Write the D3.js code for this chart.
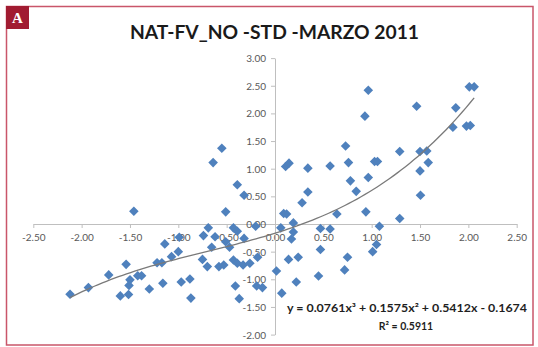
<!DOCTYPE html>
<html>
<head>
<meta charset="utf-8">
<script src="https://cdn.jsdelivr.net/npm/d3@7"></script>
<style>
  body { margin: 0; background: #fff; }
  .tick text { font-family: Lato, "Open Sans", sans-serif; font-size: 10px; fill: #595959; }
  .domain, .tick line { stroke: #bfbfbf; }
</style>
</head>
<body>
<div id="chart"></div>
<script>
var width = 538, height = 347;

// DATA
var xValues = [-1.46, -2.12, -1.93, -1.72, -1.54, -1.50, -1.42, -1.38, -1.51, -1.60,
  -1.515, -1.30, -1.22, -1.17, -1.14, -0.99, -1.00, -1.07, -1.16, -0.97,
  -0.88, -0.87, -0.74, -0.69, -0.62, -0.655, -0.75, -0.70, -0.58, -0.53,
  -0.51, -0.47, -0.43, -0.39, -0.32, -0.43, -0.39, -0.33, -0.26, -0.18,
  -0.41, -0.37, -0.19, -0.13, -0.20, -0.55, -0.64, -0.39, -0.32, -0.51,
  0.015, 0.07, 0.06, 0.09, 0.12, 0.19, 0.19, 0.17, 0.14, 0.24,
  0.47, 0.75, 0.45, 0.72, 0.22, 1.05, 1.01, 0.47, 0.57, 1.08,
  1.29, 0.64, 0.94, 0.28, 0.34, 0.84, 0.78, 0.965, 1.505, 1.50,
  0.11, 0.145, 0.34, 0.57, 0.76, 1.03, 1.06, 1.585, 0.73, 1.29,
  1.50, 1.57, 0.93, 0.965, 1.465, 1.87, 2.01, 2.06, 1.84, 1.98, 2.02];
var yValues = [0.23, -1.27, -1.15, -0.92, -0.73, -1.01, -0.935, -0.935, -1.11, -1.30,
  -1.275, -1.175, -0.70, -0.70, -0.36, -0.24, -0.50, -0.59, -1.07, -1.05,
  -0.995, -1.34, -0.21, -0.07, -0.23, -0.42, -0.64, -0.77, -0.77, -0.74,
  -0.32, -0.42, -0.07, -0.13, -0.26, -0.65, -0.71, -0.74, -0.71, -0.60,
  -1.12, -1.35, -1.12, -1.15, -0.04, 1.37, 1.11, 0.71, 0.52, 0.22,
  -0.85, -1.25, -0.07, 0.19, 0.18, 0.02, -0.145, -0.27, -0.64, -0.60,
  -0.46, -0.60, -0.94, -0.83, -1.05, -0.37, -0.50, -0.08, -0.09, -0.04,
  0.10, 0.18, 0.22, 0.385, 0.58, 0.59, 0.78, 0.84, 0.52, 0.96,
  1.04, 1.10, 1.01, 1.05, 1.11, 1.13, 1.13, 1.11, 1.41, 1.31,
  1.31, 1.32, 1.95, 2.42, 2.13, 2.10, 2.48, 2.48, 1.75, 1.77, 1.78];
var xTickValues = [-2.5, -2, -1.5, -1, -0.5, 0, 0.5, 1, 1.5, 2, 2.5];
var yTickValues = [-2, -1.5, -1, -0.5, 0, 0.5, 1, 1.5, 2, 2.5, 3];
var trendCoef = [0.0761, 0.1575, 0.5412, -0.1674]; // x^3, x^2, x, 1
var titleText = "NAT-FV_NO -STD -MARZO 2011";
var equationText = "y = 0.0761x\u00B3 + 0.1575x\u00B2 + 0.5412x - 0.1674";
var r2Text = "R\u00B2 = 0.5911";

var points = xValues.map(function(d, i) { return { x: d, y: yValues[i] }; });

// SCALES
var x = d3.scaleLinear().domain([-2.5, 2.5]).range([33.3, 516.7]);
var y = d3.scaleLinear().domain([-2, 3]).range([334.6, 58.1]);

var svg = d3.select("#chart").append("svg")
    .attr("width", width)
    .attr("height", height);

// FRAME
svg.append("rect")
    .attr("x", 6.5).attr("y", 6.5)
    .attr("width", 526.5).attr("height", 338.5)
    .attr("fill", "none")
    .attr("stroke", "#c9566a")
    .attr("stroke-width", 1.5);

svg.append("rect")
    .attr("x", 6).attr("y", 6)
    .attr("width", 23).attr("height", 23)
    .attr("fill", "#a11b31");

svg.append("text")
    .attr("x", 17.5).attr("y", 22.5)
    .attr("text-anchor", "middle")
    .style("font-family", "'Liberation Serif', 'DejaVu Serif', serif")
    .style("font-weight", "bold")
    .style("font-size", "15px")
    .attr("fill", "#fff")
    .text("A");

// TITLE
svg.append("text")
    .attr("x", 274.5).attr("y", 38.5)
    .attr("text-anchor", "middle")
    .attr("textLength", 289)
    .attr("lengthAdjust", "spacingAndGlyphs")
    .style("font-family", "Lato, 'Open Sans', sans-serif")
    .style("font-weight", "bold")
    .style("font-size", "18px")
    .attr("fill", "#1a1a1a")
    .text(titleText);

// AXES
var fmt = function(d) { return d.toFixed(2); };

svg.append("g")
    .attr("class", "x axis")
    .attr("transform", "translate(0," + y(0) + ")")
    .call(d3.axisBottom(x).tickValues(xTickValues).tickFormat(fmt)
      .tickSizeInner(4).tickSizeOuter(0).tickPadding(6));

svg.append("g")
    .attr("class", "y axis")
    .attr("transform", "translate(" + x(0) + ",0)")
    .call(d3.axisLeft(y).tickValues(yTickValues).tickFormat(fmt)
      .tickSizeInner(4).tickSizeOuter(0).tickPadding(5));

svg.selectAll(".tick text").attr("dy", "0.35em");
svg.selectAll(".x.axis .tick text").attr("dy", "0.71em");

// POINTS
var diamond = d3.symbol().type(d3.symbolSquare).size(46);
svg.append("g").selectAll("path.pt")
    .data(points)
  .enter().append("path")
    .attr("class", "pt")
    .attr("d", diamond)
    .attr("transform", function(d) { return "translate(" + x(d.x) + "," + y(d.y) + ") rotate(45)"; })
    .attr("fill", "#4f81bd");

// TRENDLINE (polynomial, order 3)
function poly(v) {
  return trendCoef[0] * v * v * v + trendCoef[1] * v * v + trendCoef[2] * v + trendCoef[3];
}
var ext = d3.extent(xValues);
var curve = d3.range(0, 101).map(function(i) {
  var v = ext[0] + (ext[1] - ext[0]) * i / 100;
  return [v, poly(v)];
});
svg.append("path")
    .datum(curve)
    .attr("fill", "none")
    .attr("stroke", "#7a7a7a")
    .attr("stroke-width", 1.3)
    .attr("d", d3.line().x(function(d) { return x(d[0]); }).y(function(d) { return y(d[1]); }));

// EQUATION
svg.append("text")
    .attr("x", 407).attr("y", 312)
    .attr("text-anchor", "middle")
    .attr("textLength", 240)
    .attr("lengthAdjust", "spacingAndGlyphs")
    .style("font-family", "Lato, 'Open Sans', sans-serif")
    .style("font-weight", "bold")
    .style("font-size", "10.5px")
    .attr("fill", "#1f1f1f")
    .text(equationText);

svg.append("text")
    .attr("x", 406).attr("y", 330)
    .attr("text-anchor", "middle")
    .style("font-family", "Lato, 'Open Sans', sans-serif")
    .style("font-weight", "bold")
    .style("font-size", "10.5px")
    .attr("fill", "#1f1f1f")
    .text(r2Text);
</script>
</body>
</html>
